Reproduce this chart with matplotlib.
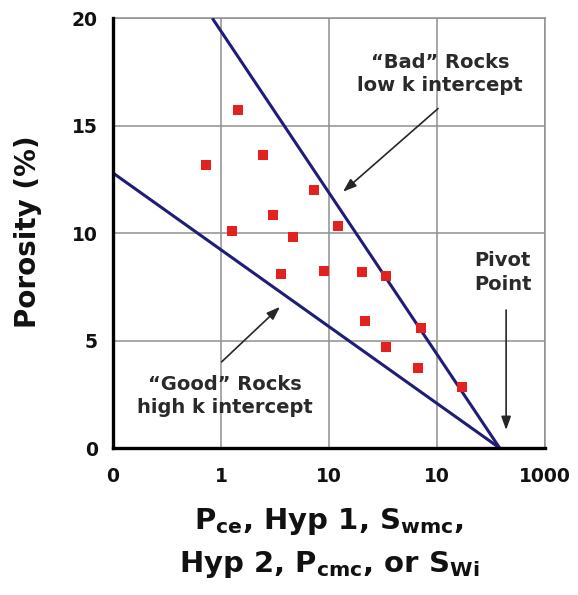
import matplotlib
matplotlib.use("Agg")
import matplotlib.pyplot as plt

plt.rcParams['font.family'] = ['DejaVu Sans']
plt.rcParams['mathtext.default'] = 'bf'

# Data (x in decade-position units of the axis)
pts_x = [1.16, 0.86, 1.39, 1.86, 1.48, 1.10, 2.08, 1.67, 1.56, 1.95, 2.31, 2.53,
         2.33, 2.85, 2.53, 2.82, 3.23]
pts_y = [15.75, 13.16, 13.63, 12.0, 10.84, 10.11, 10.33, 9.8, 8.12, 8.25, 8.17, 8.01,
         5.92, 5.57, 4.68, 3.74, 2.85]
bad_x = [0.92, 3.58]
bad_y = [20.0, 0.0]
good_x = [0.0, 3.58]
good_y = [12.8, 0.0]
xtick_pos = [0, 1, 2, 3, 4]
xtick_labels = ['0', '1', '10', '10', '1000']
ytick_pos = [0, 5, 10, 15, 20]

fig = plt.figure(figsize=(5.78, 5.95), dpi=100)
ax = fig.add_axes([113/578, 1-448/595, (545-113)/578, (448-18.3)/595])

grid_c = '#8f8f8f'
ax.set_xlim(0, 4)
ax.set_ylim(0, 20)
ax.set_xticks(xtick_pos)
ax.set_xticklabels(xtick_labels)
ax.set_yticks(ytick_pos)
ax.grid(True, color=grid_c, lw=1.1)
ax.set_axisbelow(True)
for s in ['top', 'right']:
    ax.spines[s].set_color(grid_c)
    ax.spines[s].set_linewidth(1.1)
for s in ['left', 'bottom']:
    ax.spines[s].set_color('black')
    ax.spines[s].set_linewidth(2.4)
    ax.spines[s].set_zorder(5)
ax.tick_params(axis='both', length=0, labelsize=13.5, colors='#111111')
ax.tick_params(axis='x', pad=14)
ax.tick_params(axis='y', pad=11)
for lab in ax.get_xticklabels() + ax.get_yticklabels():
    lab.set_fontweight('bold')

line_c = '#1f1d78'
ax.plot(bad_x, bad_y, color=line_c, lw=2.2, solid_capstyle='butt', zorder=3)
ax.plot(good_x, good_y, color=line_c, lw=2.2, solid_capstyle='butt', zorder=3)
ax.plot(pts_x, pts_y, linestyle='none', marker='s', markersize=7,
        color='#e3211f', markeredgewidth=0, zorder=4)

txt_c = '#2a2a2a'
arrow = dict(arrowstyle='-|>,head_length=0.5,head_width=0.18', color='#262626', lw=1.2,
             mutation_scale=16, shrinkA=0, shrinkB=0)
ax.text(3.03, 17.4, '\u201cBad\u201d Rocks\nlow k intercept', ha='center', va='center',
        fontsize=14, fontweight='bold', color=txt_c, linespacing=1.3)
ax.annotate('', xy=(2.13, 11.93), xytext=(3.01, 15.8), arrowprops=arrow)
ax.text(3.61, 8.17, 'Pivot\nPoint', ha='center', va='center',
        fontsize=14, fontweight='bold', color=txt_c, linespacing=1.3)
ax.annotate('', xy=(3.64, 0.84), xytext=(3.64, 6.42), arrowprops=arrow)
ax.text(1.04, 2.43, '\u201cGood\u201d Rocks\nhigh k intercept', ha='center', va='center',
        fontsize=14, fontweight='bold', color=txt_c, linespacing=1.3)
ax.annotate('', xy=(1.546, 6.57), xytext=(1.006, 4.01), arrowprops=arrow)

ax.text(0.5, -0.1885, r'P$_{ce}$, Hyp 1, S$_{wmc}$,', transform=ax.transAxes,
        ha='center', va='baseline', fontsize=21, fontweight='bold', color='#111111')
ax.text(0.5, -0.2886, r'Hyp 2, P$_{cmc}$, or S$_{Wi}$', transform=ax.transAxes,
        ha='center', va='baseline', fontsize=21, fontweight='bold', color='#111111')

fig.text(28/578, 1-232/595, 'Porosity (%)', rotation=90, ha='center', va='center',
         fontsize=20, fontweight='bold', color='#111111')

fig.savefig('out.png', dpi=100, facecolor='white')
